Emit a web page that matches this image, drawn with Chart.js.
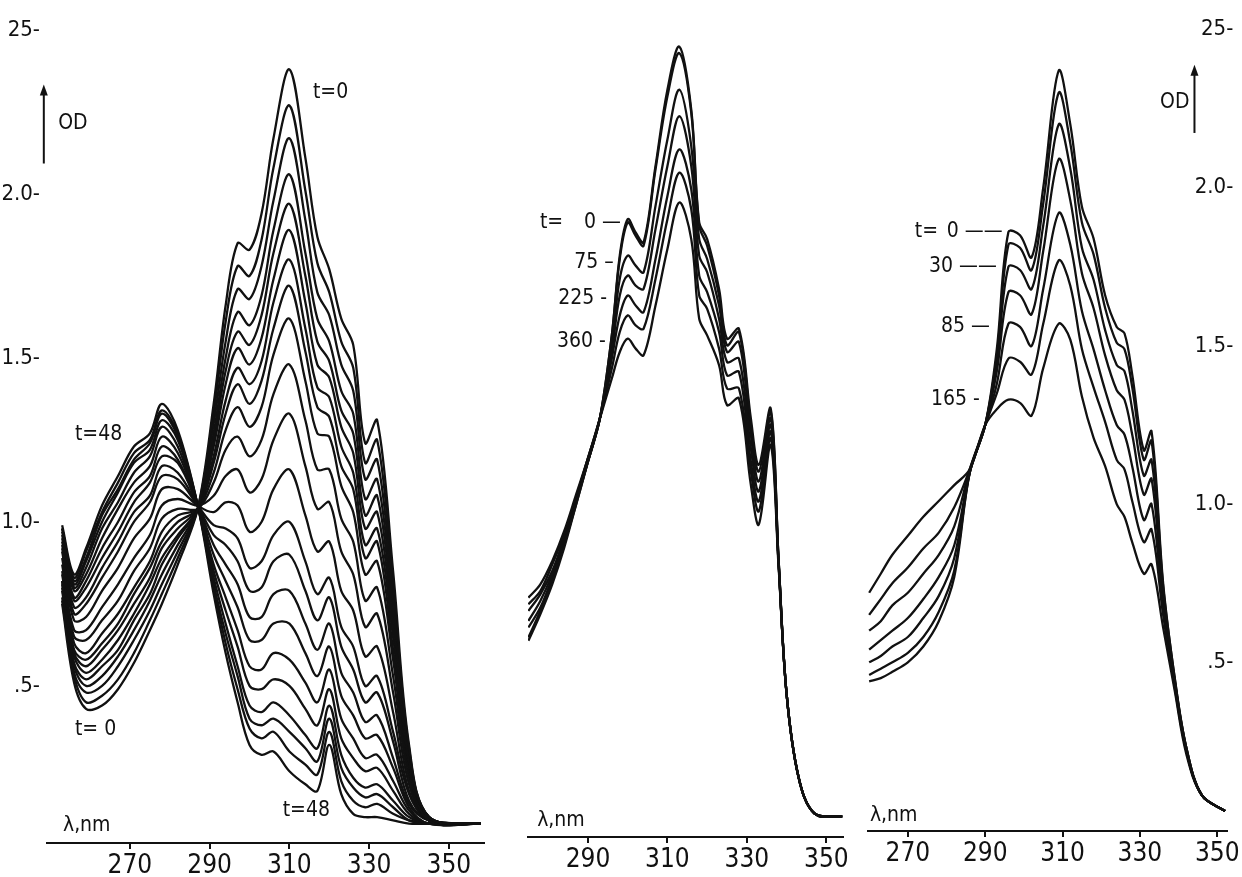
<!DOCTYPE html>
<html>
<head>
<meta charset="utf-8">
<title>OD spectra</title>
<script src="https://cdn.jsdelivr.net/npm/chart.js@4.4.0/dist/chart.umd.min.js"></script>
<style>
  html, body { margin: 0; padding: 0; background: #fff; }
  #wrap { position: relative; width: 1242px; height: 877px; overflow: hidden; }
  #wrap canvas { position: absolute; left: 0; top: 0; }
</style>
</head>
<body>
<div id="wrap">
  <canvas id="chartA" width="1242" height="877"></canvas>
  <canvas id="chartB" width="1242" height="877"></canvas>
  <canvas id="chartC" width="1242" height="877"></canvas>
</div>
<script>
// ---- data (wavelength in nm, optical density) ----

// left panel, t = 0 ... t = 48
const wlA = [253, 256, 259, 263, 267, 271, 275, 278, 282, 287, 291, 294, 297, 300, 303, 306, 310, 314, 317, 320, 323, 326, 329, 332, 336, 340, 345, 358];
const odA = [
  [0.75, 0.51, 0.43, 0.44, 0.49, 0.57, 0.67, 0.75, 0.87, 1.04, 1.36, 1.66, 1.85, 1.83, 1.94, 2.17, 2.38, 2.11, 1.87, 1.77, 1.62, 1.54, 1.24, 1.31, 0.85, 0.32, 0.10, 0.08],
  [0.76, 0.53, 0.45, 0.47, 0.52, 0.60, 0.70, 0.78, 0.89, 1.04, 1.33, 1.61, 1.78, 1.75, 1.86, 2.08, 2.27, 2.01, 1.79, 1.70, 1.55, 1.47, 1.18, 1.25, 0.81, 0.31, 0.10, 0.08],
  [0.77, 0.54, 0.48, 0.50, 0.56, 0.64, 0.73, 0.81, 0.91, 1.04, 1.30, 1.55, 1.71, 1.68, 1.78, 1.98, 2.17, 1.92, 1.70, 1.63, 1.48, 1.40, 1.13, 1.19, 0.77, 0.30, 0.10, 0.08],
  [0.79, 0.56, 0.50, 0.53, 0.59, 0.67, 0.76, 0.84, 0.93, 1.04, 1.27, 1.50, 1.64, 1.60, 1.69, 1.89, 2.06, 1.82, 1.62, 1.55, 1.40, 1.33, 1.07, 1.13, 0.74, 0.28, 0.10, 0.08],
  [0.80, 0.57, 0.52, 0.56, 0.61, 0.70, 0.78, 0.87, 0.95, 1.04, 1.25, 1.46, 1.58, 1.54, 1.63, 1.82, 1.97, 1.75, 1.55, 1.49, 1.34, 1.27, 1.02, 1.08, 0.71, 0.27, 0.10, 0.08],
  [0.81, 0.59, 0.54, 0.58, 0.64, 0.72, 0.81, 0.89, 0.96, 1.04, 1.23, 1.42, 1.53, 1.48, 1.56, 1.74, 1.89, 1.67, 1.48, 1.44, 1.29, 1.21, 0.98, 1.03, 0.68, 0.27, 0.10, 0.08],
  [0.82, 0.60, 0.56, 0.61, 0.67, 0.75, 0.83, 0.92, 0.98, 1.04, 1.20, 1.37, 1.47, 1.42, 1.49, 1.67, 1.80, 1.59, 1.41, 1.38, 1.23, 1.15, 0.93, 0.98, 0.65, 0.26, 0.09, 0.08],
  [0.82, 0.61, 0.58, 0.63, 0.69, 0.78, 0.86, 0.94, 1.00, 1.04, 1.18, 1.33, 1.42, 1.36, 1.43, 1.59, 1.72, 1.52, 1.35, 1.32, 1.17, 1.10, 0.89, 0.94, 0.61, 0.25, 0.09, 0.08],
  [0.84, 0.63, 0.60, 0.66, 0.72, 0.80, 0.88, 0.97, 1.02, 1.04, 1.15, 1.28, 1.35, 1.29, 1.35, 1.51, 1.62, 1.43, 1.27, 1.26, 1.11, 1.03, 0.84, 0.88, 0.58, 0.24, 0.09, 0.08],
  [0.85, 0.65, 0.64, 0.70, 0.76, 0.85, 0.92, 1.01, 1.04, 1.04, 1.12, 1.22, 1.26, 1.20, 1.25, 1.39, 1.48, 1.31, 1.16, 1.16, 1.01, 0.94, 0.76, 0.80, 0.53, 0.22, 0.09, 0.08],
  [0.87, 0.67, 0.67, 0.74, 0.81, 0.89, 0.96, 1.05, 1.07, 1.05, 1.08, 1.14, 1.16, 1.09, 1.13, 1.25, 1.33, 1.17, 1.04, 1.06, 0.91, 0.84, 0.68, 0.72, 0.48, 0.20, 0.09, 0.08],
  [0.89, 0.70, 0.71, 0.79, 0.86, 0.95, 1.01, 1.10, 1.10, 1.05, 1.03, 1.06, 1.05, 0.97, 1.00, 1.10, 1.16, 1.02, 0.91, 0.94, 0.79, 0.73, 0.59, 0.62, 0.42, 0.18, 0.09, 0.08],
  [0.91, 0.72, 0.75, 0.83, 0.91, 1.00, 1.06, 1.14, 1.13, 1.05, 0.99, 0.98, 0.95, 0.86, 0.88, 0.96, 1.00, 0.88, 0.78, 0.83, 0.68, 0.62, 0.50, 0.53, 0.36, 0.17, 0.09, 0.08],
  [0.92, 0.74, 0.77, 0.86, 0.94, 1.03, 1.08, 1.17, 1.15, 1.05, 0.96, 0.93, 0.88, 0.79, 0.80, 0.88, 0.90, 0.79, 0.70, 0.77, 0.62, 0.55, 0.45, 0.48, 0.33, 0.15, 0.09, 0.08],
  [0.93, 0.76, 0.80, 0.89, 0.97, 1.06, 1.12, 1.20, 1.18, 1.05, 0.93, 0.87, 0.81, 0.71, 0.71, 0.78, 0.79, 0.69, 0.61, 0.69, 0.54, 0.48, 0.39, 0.41, 0.28, 0.14, 0.09, 0.08],
  [0.94, 0.77, 0.82, 0.92, 1.00, 1.09, 1.14, 1.23, 1.19, 1.05, 0.90, 0.82, 0.74, 0.64, 0.64, 0.69, 0.69, 0.60, 0.53, 0.62, 0.47, 0.41, 0.34, 0.35, 0.25, 0.13, 0.08, 0.08],
  [0.95, 0.79, 0.84, 0.95, 1.04, 1.12, 1.17, 1.26, 1.21, 1.05, 0.87, 0.77, 0.67, 0.56, 0.55, 0.60, 0.58, 0.51, 0.45, 0.55, 0.40, 0.34, 0.28, 0.29, 0.21, 0.12, 0.08, 0.08],
  [0.96, 0.80, 0.86, 0.98, 1.06, 1.15, 1.20, 1.29, 1.23, 1.05, 0.85, 0.73, 0.62, 0.50, 0.49, 0.52, 0.50, 0.43, 0.38, 0.49, 0.34, 0.28, 0.24, 0.25, 0.18, 0.11, 0.08, 0.08],
  [0.97, 0.81, 0.88, 1.00, 1.09, 1.18, 1.22, 1.31, 1.25, 1.05, 0.83, 0.69, 0.56, 0.44, 0.42, 0.45, 0.41, 0.35, 0.31, 0.44, 0.29, 0.22, 0.19, 0.20, 0.15, 0.10, 0.08, 0.08],
  [0.98, 0.82, 0.89, 1.02, 1.10, 1.19, 1.24, 1.33, 1.26, 1.05, 0.81, 0.66, 0.53, 0.40, 0.38, 0.40, 0.36, 0.31, 0.27, 0.40, 0.25, 0.19, 0.16, 0.17, 0.13, 0.09, 0.08, 0.08],
  [0.98, 0.83, 0.91, 1.03, 1.12, 1.21, 1.25, 1.34, 1.27, 1.05, 0.80, 0.63, 0.49, 0.37, 0.34, 0.36, 0.30, 0.26, 0.23, 0.36, 0.21, 0.15, 0.13, 0.14, 0.11, 0.09, 0.08, 0.08],
  [0.99, 0.84, 0.92, 1.05, 1.14, 1.23, 1.27, 1.36, 1.28, 1.05, 0.78, 0.60, 0.45, 0.32, 0.29, 0.30, 0.24, 0.20, 0.18, 0.32, 0.17, 0.11, 0.10, 0.10, 0.09, 0.08, 0.08, 0.08]
];

// middle panel, t = 0, 75, 225, 360 (plus unlabelled ones)
const wlB = [275, 278, 281, 284, 287, 290, 293, 296, 298, 300, 302, 304, 307, 310, 313, 316, 318, 320, 323, 325, 328, 331, 333, 336, 338, 340, 343, 347, 354];
const odB = [
  [0.63, 0.71, 0.80, 0.91, 1.04, 1.17, 1.30, 1.55, 1.79, 1.90, 1.86, 1.83, 2.06, 2.29, 2.42, 2.23, 1.89, 1.84, 1.69, 1.54, 1.57, 1.30, 1.16, 1.33, 0.87, 0.47, 0.22, 0.11, 0.10],
  [0.64, 0.72, 0.81, 0.92, 1.04, 1.17, 1.30, 1.55, 1.78, 1.89, 1.85, 1.82, 2.05, 2.27, 2.40, 2.22, 1.88, 1.82, 1.67, 1.52, 1.56, 1.28, 1.14, 1.32, 0.87, 0.47, 0.22, 0.11, 0.10],
  [0.67, 0.73, 0.82, 0.92, 1.05, 1.17, 1.30, 1.52, 1.72, 1.79, 1.76, 1.74, 1.94, 2.14, 2.29, 2.12, 1.84, 1.78, 1.64, 1.50, 1.53, 1.25, 1.11, 1.30, 0.87, 0.47, 0.22, 0.11, 0.10],
  [0.69, 0.75, 0.83, 0.93, 1.05, 1.17, 1.30, 1.50, 1.67, 1.73, 1.70, 1.69, 1.87, 2.06, 2.21, 2.06, 1.79, 1.74, 1.60, 1.47, 1.48, 1.21, 1.08, 1.28, 0.86, 0.47, 0.22, 0.11, 0.10],
  [0.72, 0.77, 0.84, 0.94, 1.06, 1.18, 1.30, 1.48, 1.61, 1.67, 1.64, 1.62, 1.78, 1.97, 2.11, 1.99, 1.73, 1.68, 1.56, 1.43, 1.44, 1.17, 1.05, 1.26, 0.86, 0.47, 0.22, 0.11, 0.10],
  [0.74, 0.78, 0.86, 0.95, 1.06, 1.18, 1.30, 1.45, 1.56, 1.61, 1.58, 1.57, 1.72, 1.90, 2.04, 1.93, 1.67, 1.63, 1.51, 1.39, 1.39, 1.14, 1.02, 1.24, 0.86, 0.47, 0.22, 0.11, 0.10],
  [0.76, 0.80, 0.87, 0.96, 1.07, 1.18, 1.30, 1.42, 1.50, 1.54, 1.51, 1.49, 1.64, 1.81, 1.95, 1.84, 1.60, 1.55, 1.46, 1.34, 1.36, 1.10, 0.98, 1.22, 0.85, 0.47, 0.22, 0.11, 0.10]
];

// right panel, t = 0, 30, 85, 165 (plus unlabelled ones)
const wlC = [260, 263, 266, 270, 274, 278, 282, 286, 290, 293, 296, 299, 302, 305, 309, 312, 315, 318, 321, 324, 326, 328, 331, 333, 336, 339, 342, 346, 352];
const odC = [
  [0.44, 0.45, 0.47, 0.50, 0.55, 0.63, 0.77, 1.10, 1.25, 1.49, 1.86, 1.85, 1.78, 2.00, 2.37, 2.20, 1.94, 1.84, 1.66, 1.56, 1.54, 1.41, 1.17, 1.23, 0.75, 0.45, 0.23, 0.08, 0.03],
  [0.46, 0.48, 0.50, 0.53, 0.58, 0.66, 0.79, 1.10, 1.25, 1.47, 1.82, 1.81, 1.74, 1.95, 2.30, 2.14, 1.89, 1.79, 1.62, 1.51, 1.49, 1.37, 1.14, 1.20, 0.74, 0.45, 0.23, 0.08, 0.03],
  [0.50, 0.52, 0.55, 0.58, 0.64, 0.71, 0.83, 1.10, 1.25, 1.45, 1.75, 1.74, 1.68, 1.88, 2.20, 2.06, 1.81, 1.71, 1.55, 1.44, 1.42, 1.30, 1.09, 1.14, 0.72, 0.44, 0.23, 0.08, 0.03],
  [0.54, 0.57, 0.60, 0.64, 0.70, 0.77, 0.87, 1.10, 1.25, 1.42, 1.67, 1.66, 1.60, 1.80, 2.09, 1.96, 1.73, 1.62, 1.47, 1.36, 1.33, 1.22, 1.03, 1.08, 0.70, 0.44, 0.22, 0.08, 0.03],
  [0.60, 0.63, 0.68, 0.72, 0.78, 0.84, 0.93, 1.11, 1.25, 1.38, 1.57, 1.56, 1.50, 1.68, 1.92, 1.82, 1.61, 1.49, 1.36, 1.25, 1.22, 1.12, 0.95, 1.00, 0.67, 0.43, 0.22, 0.08, 0.03],
  [0.65, 0.70, 0.75, 0.80, 0.86, 0.91, 0.99, 1.11, 1.25, 1.35, 1.46, 1.45, 1.41, 1.57, 1.77, 1.69, 1.49, 1.37, 1.26, 1.14, 1.11, 1.01, 0.88, 0.92, 0.65, 0.42, 0.22, 0.08, 0.03],
  [0.72, 0.78, 0.84, 0.90, 0.96, 1.01, 1.06, 1.11, 1.25, 1.30, 1.33, 1.32, 1.28, 1.43, 1.57, 1.52, 1.34, 1.21, 1.12, 1.00, 0.96, 0.88, 0.78, 0.81, 0.61, 0.41, 0.21, 0.08, 0.03]
];

// axis ticks
const xTicksA = [270, 290, 310, 330, 350];
const xTicksB = [290, 310, 330, 350];
const xTicksC = [270, 290, 310, 330, 350];
const yTicks = [0.5, 1.0, 1.5, 2.0, 2.5];
const yTickText = ['.5-', '1.0-', '1.5-', '2.0-', '25-'];

// text written on the panels, placed in data units
const notesA = [
  { text: 't=0', x: 315.9, y: 2.31, align: 'left' },
  { text: 't=48', x: 256.2, y: 1.265, align: 'left' },
  { text: 't= 0', x: 256.2, y: 0.367, align: 'left' },
  { text: 't=48', x: 308.3, y: 0.12, align: 'left' },
  { text: 'λ,nm', x: 253.2, y: 0.075, align: 'left' },
  { text: 'OD', x: 252.0, y: 2.214, align: 'left' }
];
const notesB = [
  { text: 't=', x: 277.9, y: 1.89, align: 'left' },
  { text: '0 —', x: 298.3, y: 1.89, align: 'right' },
  { text: '75 –', x: 296.5, y: 1.77, align: 'right' },
  { text: '225 -', x: 294.8, y: 1.66, align: 'right' },
  { text: '360 -', x: 294.5, y: 1.53, align: 'right' },
  { text: 'λ,nm', x: 277.2, y: 0.09, align: 'left' }
];
const notesC = [
  { text: 't=', x: 271.8, y: 1.86, align: 'left' },
  { text: '0 ——', x: 294.5, y: 1.86, align: 'right' },
  { text: '30 ——', x: 293.0, y: 1.75, align: 'right' },
  { text: '85 —', x: 291.2, y: 1.56, align: 'right' },
  { text: '165 -', x: 288.6, y: 1.33, align: 'right' },
  { text: 'λ,nm', x: 260.2, y: 0.017, align: 'left' },
  { text: 'OD', x: 342.8, y: 2.27, align: 'right' }
];
const arrowA = { x: 248.4, from: 2.093, to: 2.328 };
const arrowC = { x: 344.1, from: 2.173, to: 2.382 };

const FONT = "'Liberation Sans Narrow', 'DejaVu Sans Condensed', 'Arial Narrow', sans-serif";
const INK = '#111';

// draws the panel texts and the OD arrow
const notesPlugin = {
  id: 'notes',
  afterDraw: function(chart, args, opts) {
    const ctx = chart.ctx;
    const xs = chart.scales.x;
    const ys = chart.scales.y;
    ctx.save();
    ctx.fillStyle = INK;
    ctx.strokeStyle = INK;
    ctx.font = '21px ' + FONT;
    ctx.textBaseline = 'middle';
    (opts.items || []).forEach(function(n) {
      ctx.textAlign = n.align;
      ctx.fillText(n.text, xs.getPixelForValue(n.x), ys.getPixelForValue(n.y));
    });
    if (opts.arrow) {
      const ax = xs.getPixelForValue(opts.arrow.x);
      const y0 = ys.getPixelForValue(opts.arrow.from);
      const y1 = ys.getPixelForValue(opts.arrow.to);
      ctx.lineWidth = 2;
      ctx.beginPath();
      ctx.moveTo(ax, y0);
      ctx.lineTo(ax, y1 + 6);
      ctx.stroke();
      ctx.beginPath();
      ctx.moveTo(ax, y1 - 2);
      ctx.lineTo(ax - 4, y1 + 9);
      ctx.lineTo(ax + 4, y1 + 9);
      ctx.closePath();
      ctx.fill();
    }
    ctx.restore();
  }
};

function buildPanel(id, wl, curves, cfg) {
  const datasets = curves.map(function(vals) {
    return {
      data: wl.map(function(w, i) { return { x: w, y: vals[i] }; }),
      borderColor: INK,
      borderWidth: 2.3,
      pointRadius: 0,
      tension: 0.35,
      fill: false
    };
  });

  const yAxis = {
    type: 'linear',
    display: cfg.yShow,
    position: cfg.yPos,
    min: cfg.yMin,
    max: cfg.yMax,
    afterBuildTicks: function(scale) {
      scale.ticks = yTicks.map(function(v) { return { value: v }; });
    },
    afterFit: function(scale) { scale.width = cfg.yWidth; },
    border: { display: false },
    grid: { display: false, drawTicks: false },
    ticks: {
      color: INK,
      mirror: cfg.yMirror,
      padding: cfg.yPad,
      font: { family: FONT, size: 22 },
      callback: function(value, index) { return yTickText[index]; }
    }
  };

  return new Chart(document.getElementById(id), {
    type: 'line',
    data: { datasets: datasets },
    options: {
      responsive: false,
      animation: false,
      devicePixelRatio: 1,
      events: [],
      layout: { padding: cfg.padding },
      plugins: {
        legend: { display: false },
        tooltip: { enabled: false },
        notes: { items: cfg.notes, arrow: cfg.arrow }
      },
      scales: {
        x: {
          type: 'linear',
          min: cfg.xMin,
          max: cfg.xMax,
          afterBuildTicks: function(scale) {
            scale.ticks = cfg.xTicks.map(function(v) { return { value: v }; });
          },
          afterFit: function(scale) { scale.height = cfg.xHeight; },
          border: { display: true, color: INK, width: 2 },
          grid: { display: true, drawOnChartArea: false, drawTicks: true, tickLength: 6, color: INK, lineWidth: 2 },
          ticks: {
            color: INK,
            padding: 2,
            maxRotation: 0,
            autoSkip: false,
            font: { family: FONT, size: 26 },
            callback: function(value) { return String(value); }
          }
        },
        y: yAxis
      }
    },
    plugins: [notesPlugin]
  });
}

buildPanel('chartA', wlA, odA, {
  padding: { left: 0, top: 10, right: 758, bottom: 0 },
  xMin: 249.2, xMax: 358.8, xTicks: xTicksA, xHeight: 34,
  yMin: 0.021, yMax: 2.53, yShow: true, yPos: 'left', yWidth: 47, yMirror: false, yPad: 7,
  notes: notesA, arrow: arrowA
});

buildPanel('chartB', wlB, odB, {
  padding: { left: 528, top: 10, right: 399, bottom: 0 },
  xMin: 274.9, xMax: 354.2, xTicks: xTicksB, xHeight: 40,
  yMin: 0.039, yMax: 2.53, yShow: false, yPos: 'left', yWidth: 0, yMirror: false, yPad: 0,
  notes: notesB, arrow: null
});

buildPanel('chartC', wlC, odC, {
  padding: { left: 868, top: 10, right: 14, bottom: 0 },
  xMin: 259.7, xMax: 352.6, xTicks: xTicksC, xHeight: 46,
  yMin: -0.033, yMax: 2.5325, yShow: true, yPos: 'right', yWidth: 0, yMirror: true, yPad: 6,
  notes: notesC, arrow: arrowC
});
</script>
</body>
</html>
